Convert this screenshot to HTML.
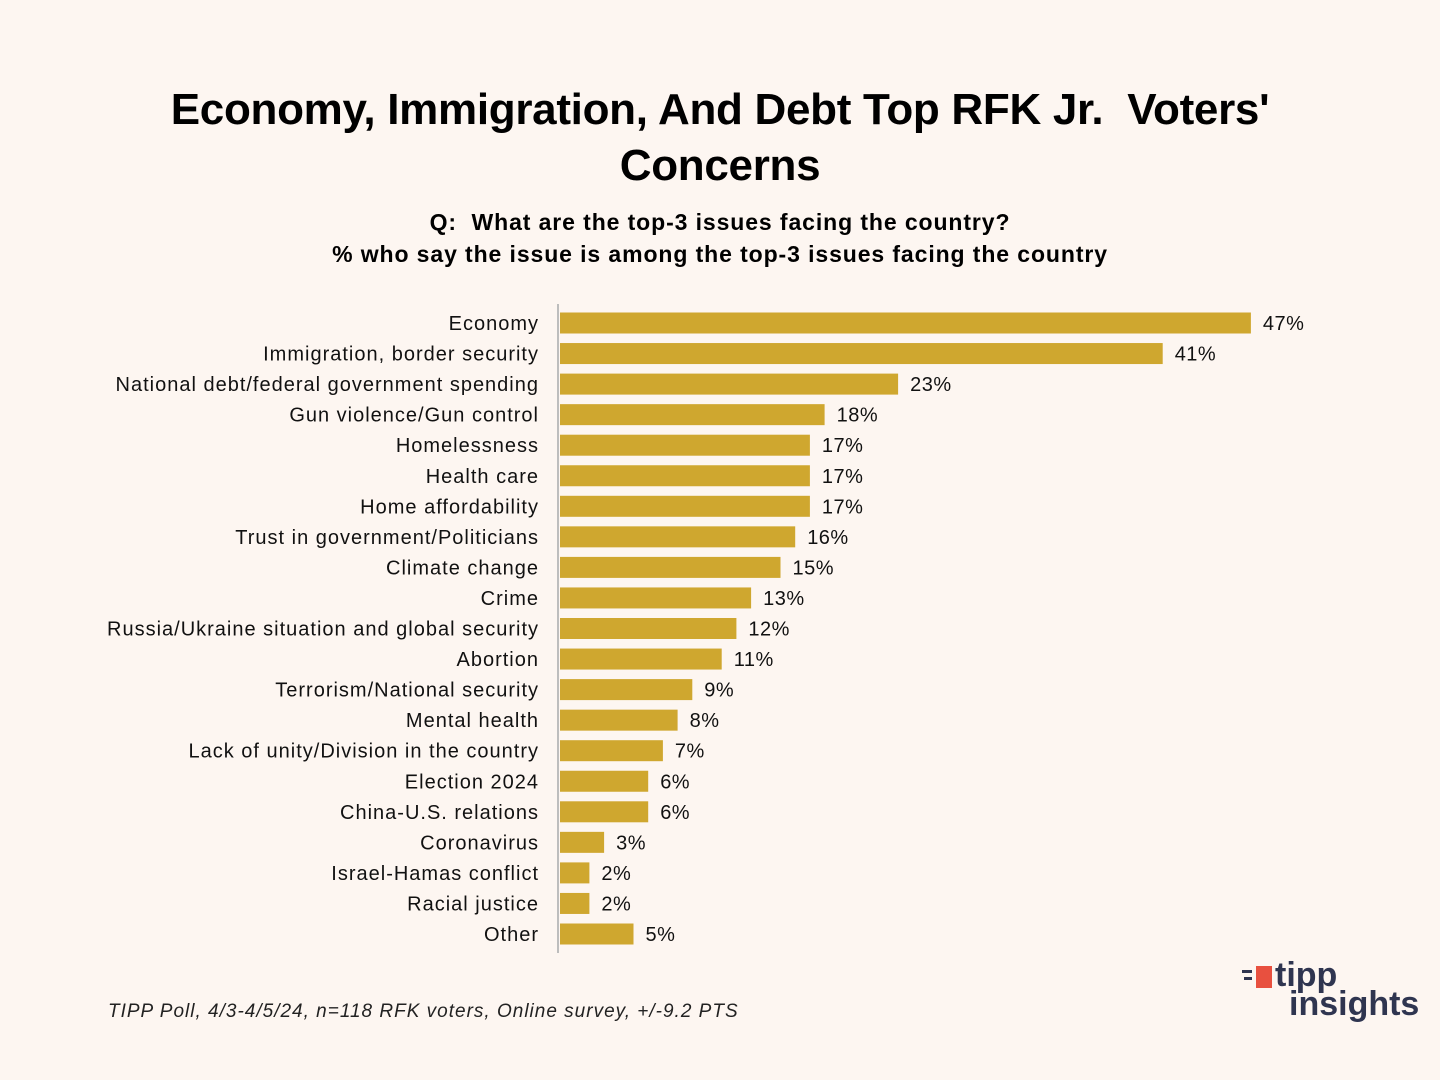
<!DOCTYPE html>
<html><head><meta charset="utf-8"><style>
body{margin:0;background:#fdf6f1;width:1440px;height:1080px;overflow:hidden;font-family:"Liberation Sans","DejaVu Sans",sans-serif}
.t{position:absolute;left:0;width:1440px;text-align:center;color:#000}
</style></head><body>
<div class="t" style="top:82px;font-size:44px;font-weight:bold;line-height:56px;letter-spacing:-0.3px">Economy, Immigration, And Debt Top RFK Jr.&nbsp; Voters'<br>Concerns</div>
<div class="t" style="top:206px;font-size:23px;font-weight:bold;line-height:32px;letter-spacing:0.9px">Q:&nbsp; What are the top-3 issues facing the country?<br>% who say the issue is among the top-3 issues facing the country</div>
<svg id="c" width="1440" height="1080" style="position:absolute;left:0;top:0"></svg>
<div style="position:absolute;left:108px;top:1001px;font-size:19px;font-style:italic;color:#222;letter-spacing:1px">TIPP Poll, 4/3-4/5/24, n=118 RFK voters, Online survey, +/-9.2 PTS</div>
<div style="position:absolute;left:1242px;top:962px;width:180px;height:60px">
<div style="position:absolute;left:14px;top:4px;width:16px;height:22px;background:#e8503f"></div>
<div style="position:absolute;left:0;top:8px;width:10px;height:3px;background:#2f3550"></div>
<div style="position:absolute;left:2px;top:15px;width:8px;height:3px;background:#2f3550"></div>
<div style="position:absolute;left:33px;top:-4px;font-size:34px;font-weight:bold;color:#2f3550;line-height:34px">tipp</div>
<div style="position:absolute;left:47px;top:25px;font-size:34px;font-weight:bold;color:#2f3550;line-height:34px">insights</div>
</div>
<script>
const categories=["Economy","Immigration, border security","National debt/federal government spending","Gun violence/Gun control","Homelessness","Health care","Home affordability","Trust in government/Politicians","Climate change","Crime","Russia/Ukraine situation and global security","Abortion","Terrorism/National security","Mental health","Lack of unity/Division in the country","Election 2024","China-U.S. relations","Coronavirus","Israel-Hamas conflict","Racial justice","Other"];
const values=[47,41,23,18,17,17,17,16,15,13,12,11,9,8,7,6,6,3,2,2,5];
const svg=document.getElementById('c');const NS='http://www.w3.org/2000/svg';
const x0=560,pxPer=14.7,y0=323,step=30.55,bh=21;
const xs=v=>x0+v*pxPer, ys=i=>y0+i*step;
function mk(t,a){const e=document.createElementNS(NS,t);for(const k in a)e.setAttribute(k,a[k]);svg.appendChild(e);return e;}
const ax=mk('line',{x1:558,x2:558,y1:304,y2:953,stroke:'#bdbdbd','stroke-width':2});


categories.forEach((c,i)=>{
const r=mk('rect',{x:x0,y:ys(i)-bh/2,width:xs(values[i])-x0,height:bh,fill:'#cfa72f'});


const l=mk('text',{x:539,y:ys(i)+7,'text-anchor':'end','font-size':20,fill:'#111','letter-spacing':'1px','font-family':'Liberation Sans, sans-serif'});l.textContent=c;


const v=mk('text',{x:xs(values[i])+12,y:ys(i)+7,'font-size':20,fill:'#111','letter-spacing':'0.5px','font-family':'Liberation Sans, sans-serif'});v.textContent=values[i]+'%';


});
</script>
</body></html>
